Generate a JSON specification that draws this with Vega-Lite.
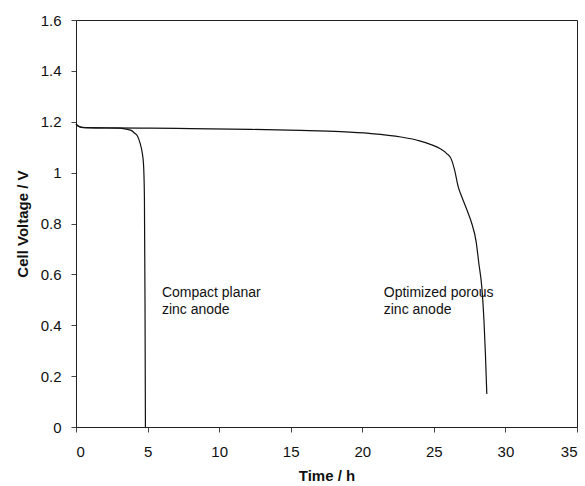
{
  "$schema": "https://vega.github.io/schema/vega-lite/v6.json",
  "autosize": "none",
  "width": 501,
  "height": 407,
  "padding": {"left": 76, "top": 20, "right": 8, "bottom": 59},
  "background": "white",
  "config": {
    "font": "Liberation Sans",
    "view": {"stroke": "#222", "strokeWidth": 1},
    "axis": {
      "grid": false,
      "domainColor": "#222",
      "tickColor": "#444",
      "labelColor": "#111",
      "titleColor": "#111",
      "labelFont": "Liberation Sans",
      "titleFont": "Liberation Sans",
      "labelFontSize": 15,
      "titleFontSize": 15,
      "titleFontWeight": "bold"
    }
  },
  "datasets": {
    "curves": [
      {"series": "compact", "t": 0, "v": 1.19},
      {"series": "compact", "t": 0.15, "v": 1.183},
      {"series": "compact", "t": 0.4, "v": 1.178},
      {"series": "compact", "t": 1.5, "v": 1.176},
      {"series": "compact", "t": 3.0, "v": 1.175},
      {"series": "compact", "t": 3.5, "v": 1.171},
      {"series": "compact", "t": 3.85, "v": 1.166},
      {"series": "compact", "t": 4.1, "v": 1.155},
      {"series": "compact", "t": 4.3, "v": 1.143},
      {"series": "compact", "t": 4.48, "v": 1.115},
      {"series": "compact", "t": 4.62, "v": 1.08},
      {"series": "compact", "t": 4.72, "v": 1.03},
      {"series": "compact", "t": 4.78, "v": 0.9},
      {"series": "compact", "t": 4.82, "v": 0.5},
      {"series": "compact", "t": 4.85, "v": 0.0},
      {"series": "porous", "t": 0, "v": 1.19},
      {"series": "porous", "t": 0.15, "v": 1.183},
      {"series": "porous", "t": 0.4, "v": 1.178},
      {"series": "porous", "t": 2, "v": 1.176},
      {"series": "porous", "t": 5.2, "v": 1.175},
      {"series": "porous", "t": 8, "v": 1.173},
      {"series": "porous", "t": 12.2, "v": 1.17},
      {"series": "porous", "t": 15.7, "v": 1.166},
      {"series": "porous", "t": 18.5, "v": 1.161},
      {"series": "porous", "t": 20.5, "v": 1.154},
      {"series": "porous", "t": 22.7, "v": 1.14},
      {"series": "porous", "t": 24, "v": 1.125},
      {"series": "porous", "t": 24.8, "v": 1.11},
      {"series": "porous", "t": 25.45, "v": 1.094},
      {"series": "porous", "t": 25.9, "v": 1.075},
      {"series": "porous", "t": 26.2, "v": 1.055},
      {"series": "porous", "t": 26.45, "v": 1.01},
      {"series": "porous", "t": 26.7, "v": 0.945},
      {"series": "porous", "t": 26.95, "v": 0.905},
      {"series": "porous", "t": 27.3, "v": 0.855},
      {"series": "porous", "t": 27.65, "v": 0.8},
      {"series": "porous", "t": 27.95, "v": 0.73},
      {"series": "porous", "t": 28.15, "v": 0.64},
      {"series": "porous", "t": 28.35, "v": 0.55},
      {"series": "porous", "t": 28.5, "v": 0.42},
      {"series": "porous", "t": 28.6, "v": 0.29},
      {"series": "porous", "t": 28.7, "v": 0.13}
    ],
    "labels": [
      {"t": 6.0, "v": 0.555, "label": "Compact planar\nzinc anode"},
      {"t": 21.5, "v": 0.555, "label": "Optimized porous\nzinc anode"}
    ]
  },
  "layer": [
    {
      "data": {"name": "curves"},
      "mark": {"type": "line", "color": "#111", "strokeWidth": 1.2, "interpolate": "monotone"},
      "encoding": {
        "x": {
          "field": "t", "type": "quantitative",
          "scale": {"domain": [0, 35], "nice": false},
          "axis": {"title": "Time / h", "values": [0, 5, 10, 15, 20, 25, 30, 35], "tickSize": 5, "labelPadding": 12, "titlePadding": 9}
        },
        "y": {
          "field": "v", "type": "quantitative",
          "scale": {"domain": [0, 1.6], "nice": false},
          "axis": {"title": "Cell Voltage / V", "values": [0, 0.2, 0.4, 0.6, 0.8, 1, 1.2, 1.4, 1.6], "format": "~g", "tickSize": 5, "labelPadding": 10, "titlePadding": 10}
        },
        "detail": {"field": "series"}
      }
    },
    {
      "data": {"name": "labels"},
      "mark": {"type": "text", "align": "left", "baseline": "top", "fontSize": 14, "lineBreak": "\n", "lineHeight": 17, "color": "#111", "font": "Liberation Sans"},
      "encoding": {
        "x": {"field": "t", "type": "quantitative"},
        "y": {"field": "v", "type": "quantitative"},
        "text": {"field": "label"}
      }
    }
  ]
}
